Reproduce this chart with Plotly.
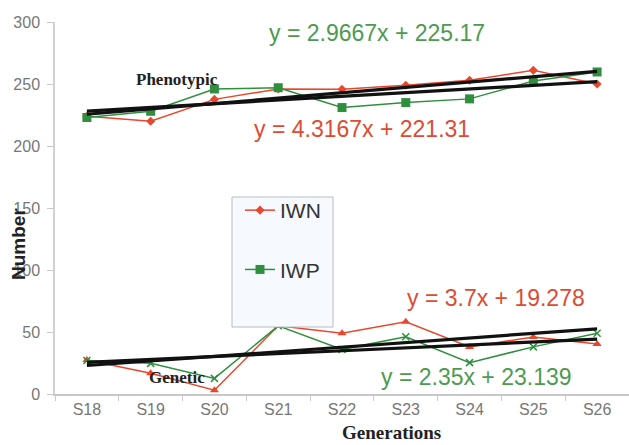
import plotly.graph_objects as go

generations = ["S18", "S19", "S20", "S21", "S22", "S23", "S24", "S25", "S26"]

# Phenotypic values
pheno_iwn = [224, 220, 237.6, 246, 245.7, 249, 253, 261, 250]
pheno_iwp = [223, 228, 246, 247, 231, 235, 238, 252.4, 259.7]

# Genetic values
gen_iwn = [27.4, 16.7, 3, 55, 49, 58.3, 38, 46, 40.3]
gen_iwp = [27, 24.7, 12.6, 55, 36, 46.2, 25.3, 38, 49]

# Linear trend equations (slope, intercept) as shown on the chart
trend_pheno_iwn = (4.3167, 221.31)
trend_pheno_iwp = (2.9667, 225.17)
trend_gen_iwn = (3.7, 19.278)
trend_gen_iwp = (2.35, 23.139)

RED = "#e8472c"
GREEN = "#2f8f3f"
RED_TXT = "#dc4b32"
GREEN_TXT = "#4d9a50"

def trend(coef):
    m, b = coef
    return [m * (i + 1) + b for i in range(len(generations))]

fig = go.Figure()

fig.add_trace(go.Scatter(x=generations, y=pheno_iwn, mode="lines+markers", name="IWN",
                         legendgroup="a",
                         line=dict(color=RED, width=1.5),
                         marker=dict(symbol="diamond", size=7, color=RED)))
fig.add_trace(go.Scatter(x=generations, y=pheno_iwp, mode="lines+markers", name="IWP",
                         legendgroup="b",
                         line=dict(color=GREEN, width=1.5),
                         marker=dict(symbol="square", size=9, color=GREEN)))
fig.add_trace(go.Scatter(x=generations, y=gen_iwn, mode="lines+markers", showlegend=False,
                         line=dict(color=RED, width=1.5),
                         marker=dict(symbol="triangle-up", size=8, color=RED)))
fig.add_trace(go.Scatter(x=generations, y=gen_iwp, mode="lines+markers", showlegend=False,
                         line=dict(color=GREEN, width=1.5),
                         marker=dict(symbol="x-thin", size=7, line=dict(color=GREEN, width=1.5))))

for coef in [trend_pheno_iwn, trend_pheno_iwp, trend_gen_iwn, trend_gen_iwp]:
    fig.add_trace(go.Scatter(x=generations, y=trend(coef), mode="lines", showlegend=False,
                             line=dict(color="#111111", width=3.2)))

annotations = [
    dict(text="y = 2.9667x + 225.17", x=377, y=33, color=GREEN_TXT),
    dict(text="y = 4.3167x + 221.31", x=362, y=129, color=RED_TXT),
    dict(text="y = 3.7x + 19.278", x=496, y=298, color=RED_TXT),
    dict(text="y = 2.35x + 23.139", x=476, y=377, color=GREEN_TXT),
]

L, T, W, H = 55, 22, 574, 372
def px(x, y):
    return (x - L) / W, (T + H - y) / H

ann_list = []
for a in annotations:
    xx, yy = px(a["x"], a["y"])
    ann_list.append(dict(text=a["text"], x=xx, y=yy, xref="paper", yref="paper",
                         showarrow=False, xanchor="center", yanchor="middle",
                         font=dict(family="Liberation Sans", size=23, color=a["color"])))

for txt, x, y, size in [("Phenotypic", 177, 79, 17), ("Genetic", 177, 377, 17)]:
    xx, yy = px(x, y)
    ann_list.append(dict(text="<b>" + txt + "</b>", x=xx, y=yy, xref="paper", yref="paper",
                         showarrow=False, xanchor="center", yanchor="middle",
                         font=dict(family="Liberation Serif", size=size, color="#222222")))

xx, yy = px(391, 433)
ann_list.append(dict(text="<b>Generations</b>", x=xx, y=yy, xref="paper", yref="paper",
                     showarrow=False, xanchor="center", yanchor="middle",
                     font=dict(family="Liberation Serif", size=19, color="#222222")))
xx, yy = px(18, 244)
ann_list.append(dict(text="<b>Number</b>", x=xx, y=yy, xref="paper", yref="paper",
                     showarrow=False, xanchor="center", yanchor="middle", textangle=-90,
                     font=dict(family="Liberation Sans", size=19, color="#222222")))

x0, y1 = px(232, 197)
x1, y0 = px(333, 327)
lx, ly = px(240, 190)

fig.update_layout(
    width=629, height=445,
    margin=dict(l=L, r=0, t=T, b=445 - T - H, pad=0),
    paper_bgcolor="white", plot_bgcolor="white",
    showlegend=True,
    legend=dict(x=lx, y=ly, xanchor="left", yanchor="top",
                bgcolor="rgba(0,0,0,0)", borderwidth=0,
                tracegroupgap=29,
                font=dict(family="Liberation Sans", size=21, color="#333333")),
    shapes=[dict(type="rect", xref="paper", yref="paper", x0=x0, x1=x1, y0=y0, y1=y1,
                 fillcolor="#f6f9fd", line=dict(color="#b8bcc4", width=1), layer="above")],
    annotations=ann_list,
    xaxis=dict(type="category", range=[-0.5, 8.5], showgrid=False, zeroline=False,
               showline=True, linecolor="#c8c8c8", linewidth=1.5,
               ticks="outside", tickson="boundaries", ticklen=5, tickcolor="#c8c8c8",
               tickfont=dict(family="Liberation Sans", size=16, color="#777777")),
    yaxis=dict(range=[0, 300], tickvals=[0, 50, 100, 150, 200, 250, 300],
               showgrid=False, zeroline=False, showline=True, linecolor="#d0d0d0", linewidth=1.5,
               ticks="outside", ticklen=6, tickcolor="#c8c8c8", ticklabelstandoff=4,
               tickfont=dict(family="Liberation Sans", size=16, color="#777777")),
)

fig.write_html("out.html")
